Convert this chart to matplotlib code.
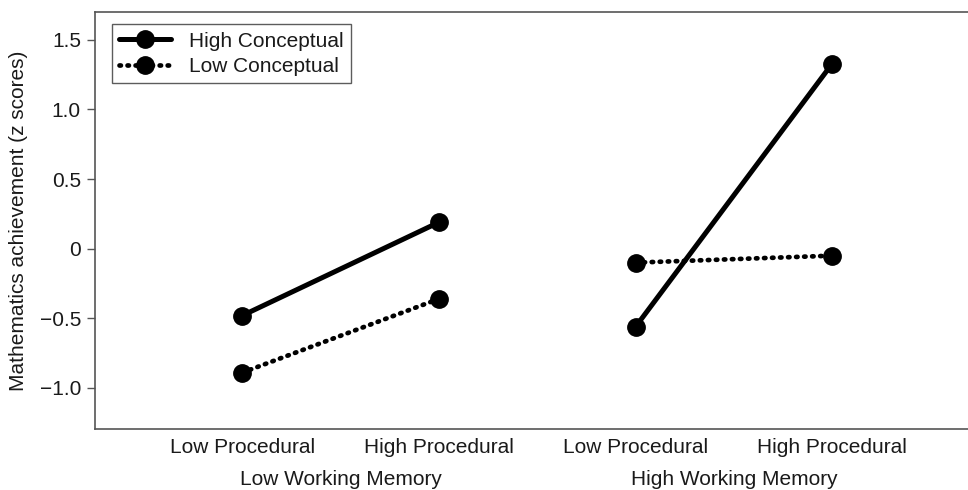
import matplotlib.pyplot as plt

# ---------------- DATA ----------------
conditions = ["Low Procedural", "High Procedural", "Low Procedural", "High Procedural"]
groups = ["Low Working Memory", "High Working Memory"]
high_conceptual = [-0.48, 0.19, -0.56, 1.33]
low_conceptual = [-0.89, -0.36, -0.10, -0.05]

plt.rcParams['font.family'] = ['Liberation Sans', 'DejaVu Sans']
plt.rcParams['text.color'] = '#1a1a1a'

fig = plt.figure(figsize=(9.68, 4.9), dpi=100)
ax = fig.add_axes([0.098, 0.1245, 0.902, 0.851])

x = [1, 2, 3, 4]

# each working-memory group is drawn as its own pair of segments
for g in range(2):
    xs = x[2 * g:2 * g + 2]
    ax.plot(xs, high_conceptual[2 * g:2 * g + 2], color='black', lw=3.6,
            marker='o', ms=12.5, solid_capstyle='round',
            label='High Conceptual' if g == 0 else None)
    ax.plot(xs, low_conceptual[2 * g:2 * g + 2], color='black', lw=3.4,
            linestyle=(0, (0.3, 1.4)), dash_capstyle='round',
            marker='o', ms=12.5,
            label='Low Conceptual' if g == 0 else None)

ax.set_xlim(0.25, 4.69)
ax.set_ylim(-1.295, 1.70)
ax.set_yticks([1.5, 1.0, 0.5, 0, -0.5, -1.0])
ax.set_yticklabels(["1.5", "1.0", "0.5", "0", "\u22120.5", "\u22121.0"])
ax.set_xticks(x)
ax.set_xticklabels(conditions)

ax.tick_params(axis='y', length=6, width=1, color='#555555', labelsize=15,
               pad=4, labelcolor='#1a1a1a')
ax.tick_params(axis='x', length=0, labelsize=15, pad=6.5, labelcolor='#1a1a1a')

for side in ['left', 'bottom', 'top']:
    ax.spines[side].set_color('#555555')
    ax.spines[side].set_linewidth(1.2)
ax.spines['right'].set_visible(False)

ax.set_ylabel("Mathematics achievement (z scores)", fontsize=15, labelpad=8,
              color='#1a1a1a')

# group labels under the tick labels
for g, name in enumerate(groups):
    ax.text(1.5 + 2 * g, -0.122, name, transform=ax.get_xaxis_transform(),
            ha='center', va='center', fontsize=15)

leg = ax.legend(loc='upper left', bbox_to_anchor=(0.0195, 0.971), fontsize=15,
                frameon=True, fancybox=False, handlelength=2.5,
                borderpad=0.36, labelspacing=0.3, handletextpad=0.85,
                borderaxespad=0)
leg.get_frame().set_edgecolor('#333333')
leg.get_frame().set_linewidth(1.0)

fig.savefig("out.png", dpi=100)
